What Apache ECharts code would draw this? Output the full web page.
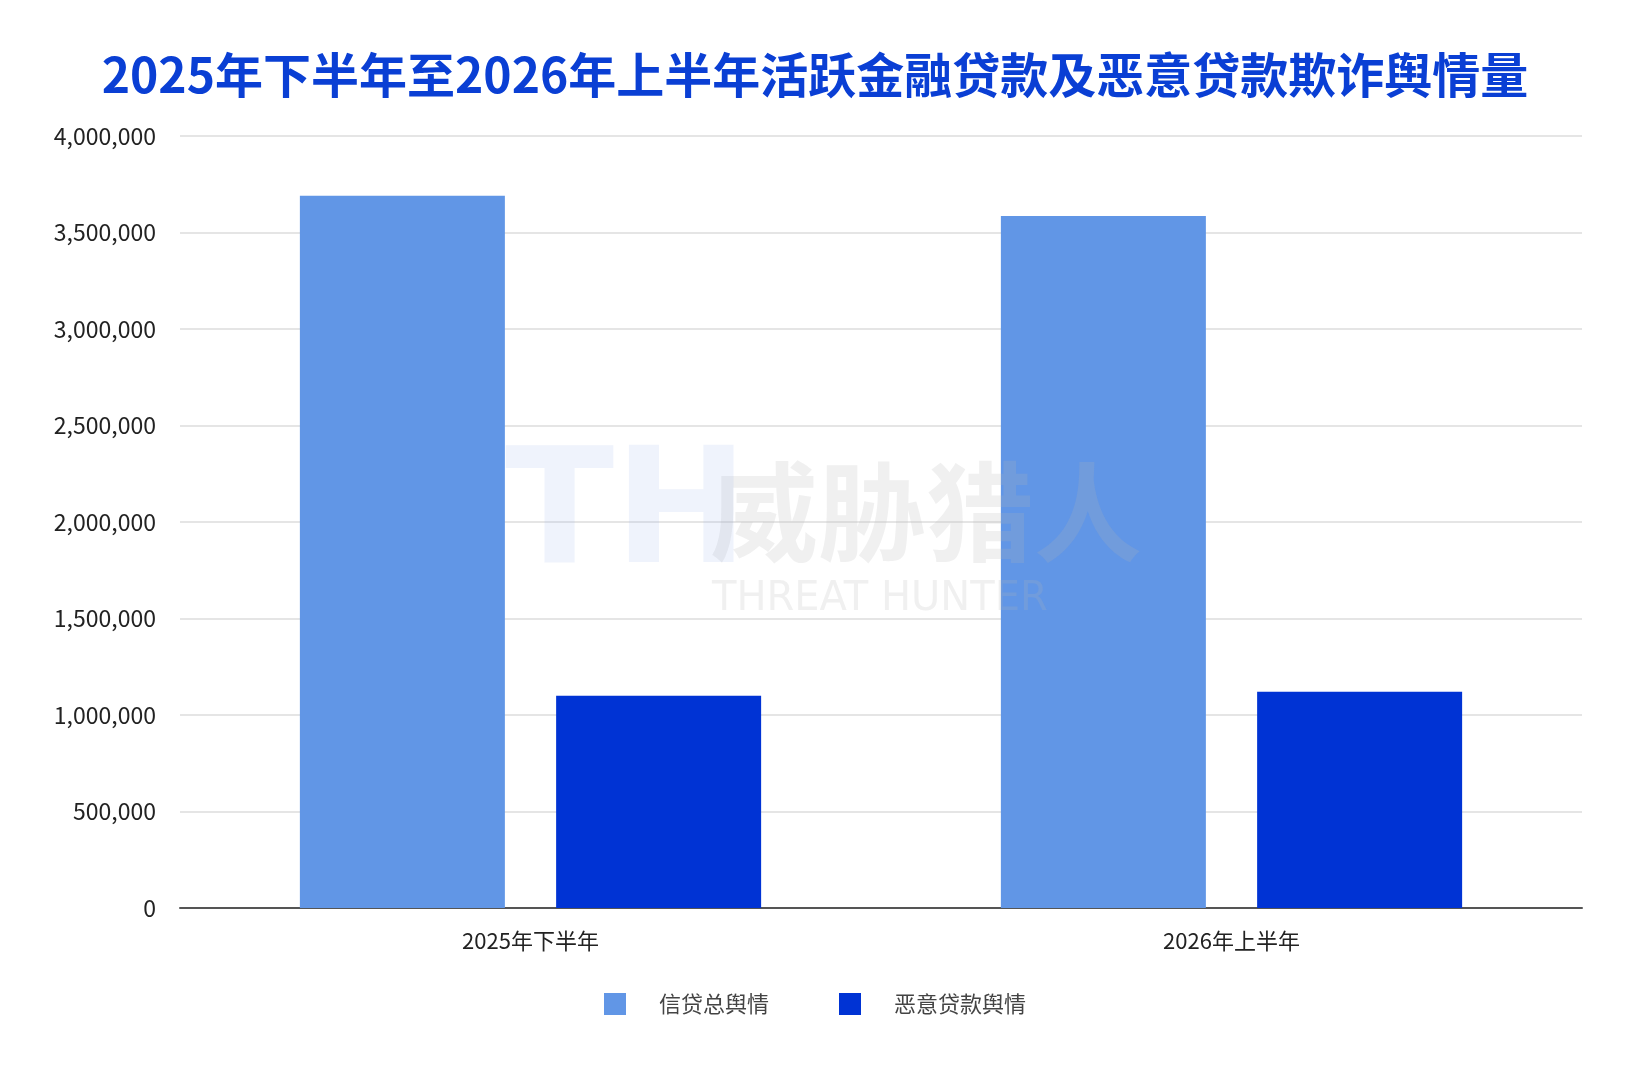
<!DOCTYPE html>
<html><head><meta charset="utf-8">
<script src="https://cdn.jsdelivr.net/npm/echarts@6/dist/echarts.min.js"></script>
<style>html,body{margin:0;background:#fff}#c{width:1630px;height:1086px}</style>
</head><body><div id="c"></div>
<script>
const categories = ['2025年下半年', '2026年上半年'];
const totalCredit = [3690000, 3585000];
const maliciousLoan = [1100000, 1120000];
const seriesNames = ['信贷总舆情', '恶意贷款舆情'];
const font = '"Noto Sans CJK SC", "Noto Sans", sans-serif';
const chart = echarts.init(document.getElementById('c'));
chart.setOption({
  title: { text: '2025年下半年至2026年上半年活跃金融贷款及恶意贷款欺诈舆情量', left: 'center', top: 46,
    textStyle: { color: '#0a3fd4', fontSize: 48, fontWeight: 'bold', fontFamily: font } },
  graphic: [
    { type: 'text', z: 100, left: 710, top: 458, style: { text: '威胁猎人', fontSize: 108, fontWeight: 'bold', fill: 'rgba(180,180,180,0.2)', fontFamily: font } },
    { type: 'text', z: 100, left: 712, top: 580, style: { text: 'THREAT HUNTER', fontSize: 40, fill: 'rgba(180,180,180,0.2)', fontFamily: 'DejaVu Sans' } },
    { type: 'text', z: 100, left: 505, top: 440, style: { text: 'TH', fontSize: 160, fontWeight: 'bold', fill: 'rgba(120,160,230,0.12)', fontFamily: 'DejaVu Sans' } }
  ],
  legend: { bottom: 66, itemGap: 70, itemWidth: 22, itemHeight: 22, icon: 'rect',
    textStyle: { fontSize: 22, color: '#444', fontFamily: font, padding: [0,0,0,28] } },
  grid: { left: 180, right: 48, top: 136, bottom: 178 },
  xAxis: { type: 'category', data: categories,
    axisLine: { lineStyle: { color: '#555', width: 2 } }, axisTick: { show: false },
    axisLabel: { fontSize: 22, color: '#222', margin: 22, fontFamily: font } },
  yAxis: { type: 'value', min: 0, max: 4000000, interval: 500000,
    axisLabel: { fontSize: 23, color: '#222', margin: 24, fontFamily: font, formatter: v => v.toLocaleString('en-US') },
    splitLine: { lineStyle: { color: '#ddd', width: 1.5 } } },
  series: [
    { name: seriesNames[0], type: 'bar', data: totalCredit, barWidth: 205, barGap: '25%', itemStyle: { color: '#6196e6' } },
    { name: seriesNames[1], type: 'bar', data: maliciousLoan, barWidth: 205, itemStyle: { color: '#0033d4' } }
  ]
});
</script></body></html>
